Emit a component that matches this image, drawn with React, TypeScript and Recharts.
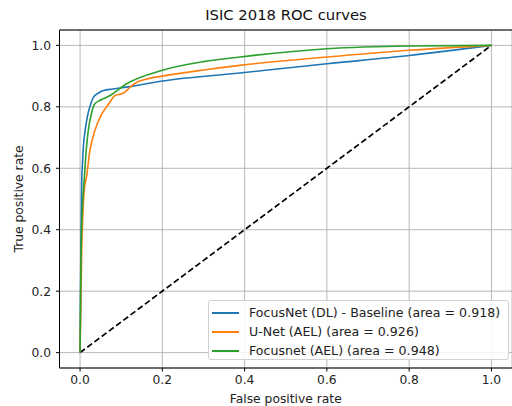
import { LineChart, Line, XAxis, YAxis, CartesianGrid, ReferenceLine } from "recharts";

// FocusNet (DL) - Baseline
const BASE_FPR = [0, 0.002, 0.004, 0.006, 0.008, 0.012, 0.018, 0.025, 0.032, 0.045, 0.057, 0.08, 0.113, 0.2, 0.388, 0.6, 0.8, 1.0];
const BASE_TPR = [0, 0.35, 0.55, 0.62, 0.67, 0.72, 0.77, 0.805, 0.83, 0.845, 0.853, 0.858, 0.864, 0.884, 0.91, 0.94, 0.967, 1.0];

// U-Net (AEL)
const UNET_FPR = [0, 0.004, 0.0065, 0.012, 0.014, 0.024, 0.036, 0.053, 0.07, 0.085, 0.1, 0.109, 0.12, 0.138, 0.16, 0.2, 0.3, 0.388, 0.6, 0.8, 1.0];
const UNET_TPR = [0, 0.33, 0.44, 0.55, 0.56, 0.658, 0.723, 0.777, 0.81, 0.837, 0.842, 0.848, 0.862, 0.88, 0.89, 0.9, 0.92, 0.935, 0.962, 0.984, 1.0];

// Focusnet (AEL)
const FOCUS_FPR = [0, 0.0025, 0.005, 0.01, 0.015, 0.02, 0.028, 0.036, 0.05, 0.073, 0.113, 0.2, 0.3, 0.388, 0.6, 0.8, 1.0];
const FOCUS_TPR = [0, 0.33, 0.45, 0.56, 0.66, 0.723, 0.78, 0.81, 0.822, 0.837, 0.875, 0.919, 0.947, 0.962, 0.989, 0.998, 1.0];

// chance line
const DIAG_X = [0, 1];
const DIAG_Y = [0, 1];

const TICKS = [0, 0.2, 0.4, 0.6, 0.8, 1.0];

const SERIES = [
  { name: "FocusNet (DL) - Baseline (area = 0.918)", fpr: BASE_FPR, tpr: BASE_TPR, color: "#1f77b4" },
  { name: "U-Net (AEL) (area = 0.926)", fpr: UNET_FPR, tpr: UNET_TPR, color: "#ff7f0e" },
  { name: "Focusnet (AEL) (area = 0.948)", fpr: FOCUS_FPR, tpr: FOCUS_TPR, color: "#2ca02c" },
];

const toPoints = (xs: number[], ys: number[]) => xs.map((x, i) => ({ x, y: ys[i] }));

const FONT = "'DejaVu Sans', sans-serif";
const FS = 12.3;

export default function App() {
  const width = 512;
  const height = 406;
  const tickStyle = { fontFamily: FONT, fontSize: FS, fill: "#222" };

  return (
    <div style={{ position: "absolute", left: 0, top: 0, width, height, fontFamily: FONT, background: "#fff" }}>
      <div style={{ position: "absolute", left: 60, width: 452, top: 5, textAlign: "center", fontSize: 14.8, lineHeight: "20px", color: "#111" }}>
        ISIC 2018 ROC curves
      </div>
      <LineChart width={width} height={height} margin={{ top: 30, right: 0, bottom: 0, left: 0 }}>
        <CartesianGrid stroke="#b0b0b0" strokeWidth={0.9} />
        <XAxis
          type="number"
          dataKey="x"
          domain={[-0.05, 1.05]}
          ticks={TICKS}
          allowDataOverflow
          tickFormatter={(v: number) => v.toFixed(1)}
          height={38}
          tickSize={3.5}
          tickMargin={4}
          tick={tickStyle}
          stroke="#000"
          label={{ value: "False positive rate", position: "insideBottom", offset: 3, style: { fontFamily: FONT, fontSize: FS, fill: "#222" } }}
        />
        <YAxis
          type="number"
          dataKey="y"
          domain={[-0.05, 1.05]}
          ticks={TICKS}
          allowDataOverflow
          tickFormatter={(v: number) => v.toFixed(1)}
          width={59.5}
          tickSize={3.5}
          tickMargin={5}
          tick={tickStyle}
          stroke="#000"
          label={{ value: "True positive rate", angle: -90, position: "insideLeft", offset: 19, style: { textAnchor: "middle", fontFamily: FONT, fontSize: FS, fill: "#222" } }}
        />
        <ReferenceLine y={1.05} stroke="#000" strokeWidth={1} />
        <Line
          data={toPoints(DIAG_X, DIAG_Y)}
          dataKey="y"
          type="linear"
          stroke="#000"
          strokeWidth={1.7}
          strokeDasharray="6 3"
          dot={false}
          isAnimationActive={false}
        />
        {SERIES.map((s) => (
          <Line
            key={s.name}
            data={toPoints(s.fpr, s.tpr)}
            dataKey="y"
            name={s.name}
            type="monotone"
            stroke={s.color}
            strokeWidth={1.6}
            dot={false}
            isAnimationActive={false}
          />
        ))}
      </LineChart>
      <div
        style={{
          position: "absolute",
          left: 208,
          top: 300,
          width: 301,
          height: 60,
          boxSizing: "border-box",
          border: "1px solid #d0d0d0",
          borderRadius: 3,
          background: "rgba(255,255,255,0.85)",
          fontSize: 12.6,
          color: "#222",
        }}
      >
        {SERIES.map((s, i) => (
          <div key={s.name} style={{ position: "absolute", left: 0, top: 2 + i * 19, height: 19, display: "flex", alignItems: "center", whiteSpace: "nowrap" }}>
            <div style={{ width: 27, height: 2, background: s.color, marginLeft: 3, marginRight: 10 }} />
            <span>{s.name}</span>
          </div>
        ))}
      </div>
    </div>
  );
}
